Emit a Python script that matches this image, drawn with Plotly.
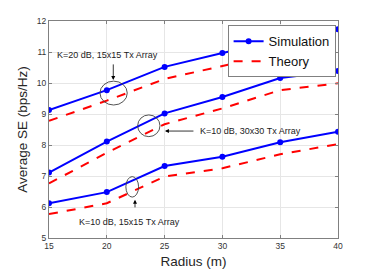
import plotly.graph_objects as go

radius = [15, 20, 25, 30, 35, 40]
sim_k20_15 = [9.13, 9.77, 10.52, 10.97, 11.38, 11.73]
thy_k20_15 = [8.78, 9.43, 10.13, 10.56, 10.97, 11.31]
sim_k10_30 = [7.11, 8.11, 9.02, 9.55, 10.16, 10.39]
thy_k10_30 = [6.76, 7.75, 8.67, 9.18, 9.77, 9.99]
sim_k10_15 = [6.12, 6.48, 7.32, 7.62, 8.09, 8.43]
thy_k10_15 = [5.77, 6.12, 6.98, 7.25, 7.70, 8.03]

x_ticks = [15, 20, 25, 30, 35, 40]
y_ticks = [5, 6, 7, 8, 9, 10, 11, 12]

BLUE = "#0000FF"
RED = "#FF0000"
FONT = "Liberation Sans, Arial, sans-serif"

fig = go.Figure()
pairs = [(sim_k20_15, thy_k20_15), (sim_k10_30, thy_k10_30), (sim_k10_15, thy_k10_15)]
for i, (s, t) in enumerate(pairs):
    fig.add_trace(go.Scatter(x=radius, y=s, mode="lines+markers", name="Simulation",
                             line=dict(color=BLUE, width=2), marker=dict(color=BLUE, size=6),
                             showlegend=(i == 0), legendrank=1))
for i, (s, t) in enumerate(pairs):
    fig.add_trace(go.Scatter(x=radius, y=t, mode="lines", name="Theory",
                             line=dict(color=RED, width=2, dash="dash"),
                             showlegend=(i == 0), legendrank=2))

# ellipses
ecol = dict(color="#404040", width=0.9)
fig.add_shape(type="circle", xref="x", yref="y", x0=19.41, x1=21.77, y0=9.29, y1=10.06, line=ecol)
fig.add_shape(type="circle", xref="x", yref="y", x0=22.67, x1=24.6, y0=8.27, y1=8.97, line=ecol)
fig.add_shape(type="circle", xref="x", yref="y", x0=21.65, x1=22.75, y0=6.32, y1=6.98, line=ecol)

afont = dict(family=FONT, size=9, color="#222222")
akw = dict(xref="x", yref="y", text="", showarrow=True, arrowhead=2, arrowsize=1,
           arrowwidth=0.8, arrowcolor="#000000")
fig.add_annotation(x=20.56, y=10.10, ax=0, ay=-17, **akw)
fig.add_annotation(x=25.03, y=8.45, ax=30, ay=0, **akw)
fig.add_annotation(x=22.44, y=6.23, ax=0, ay=9, **akw)
# labels
fig.add_annotation(x=20.02, y=10.89, xref="x", yref="y", text="K=20 dB, 15x15 Tx Array",
                   showarrow=False, font=afont)
fig.add_annotation(x=27.9, y=8.45, xref="x", yref="y", text="K=10 dB, 30x30 Tx Array",
                   showarrow=False, font=afont, xanchor="left")
fig.add_annotation(x=22.0, y=5.52, xref="x", yref="y", text="K=10 dB, 15x15 Tx Array",
                   showarrow=False, font=afont)

axis_common = dict(showgrid=True, gridcolor="#E6E6E6", gridwidth=1, showline=True,
                   linecolor="#808080", linewidth=1, mirror="ticks", ticks="inside",
                   ticklen=3, tickcolor="#808080", zeroline=False, automargin=False,
                   tickfont=dict(family=FONT, size=8.5, color="#333333"))
fig.update_xaxes(range=[15, 40], tickvals=x_ticks,
                 title=dict(text="Radius (m)", font=dict(family=FONT, size=13.5, color="#262626"), standoff=6),
                 **axis_common)
fig.update_yaxes(range=[5, 12], tickvals=y_ticks,
                 title=dict(text="Average SE (bps/Hz)", font=dict(family=FONT, size=13.5, color="#262626"), standoff=6),
                 **axis_common)

fig.update_layout(
    width=366, height=263,
    margin=dict(l=41, r=36, t=13, b=33),
    paper_bgcolor="white", plot_bgcolor="white",
    font=dict(family=FONT),
    legend=dict(x=0.618, y=0.98, xanchor="left", yanchor="top",
                bgcolor="white", bordercolor="#808080", borderwidth=1,
                font=dict(family=FONT, size=13, color="#111111"),
                tracegroupgap=0, itemwidth=30),
)

fig.write_html("out.html")
